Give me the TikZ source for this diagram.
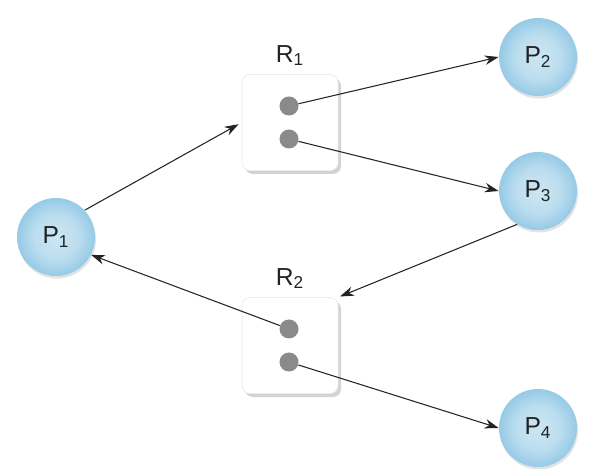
\documentclass[tikz,border=0pt]{standalone}
\usepackage{fontspec}
\setmainfont{Liberation Sans}
\usetikzlibrary{arrows.meta,positioning,shadows}
\definecolor{procin}{RGB}{204,230,243}
\definecolor{procout}{RGB}{150,202,230}
\definecolor{dotgray}{RGB}{138,138,138}
\definecolor{inkgray}{RGB}{35,35,35}
\pgfdeclareradialshading{procshade}{\pgfpoint{0bp}{0bp}}{color(0bp)=(procin); color(14bp)=(procin!70!procout); color(25bp)=(procout); color(50bp)=(procout)}

\begin{document}
\begin{tikzpicture}[
  font=\fontsize{14}{16}\selectfont, text=inkgray,
  proc/.style={circle, minimum size=1.56cm, inner sep=0pt, shading=procshade,
    drop shadow={shadow xshift=0.02cm, shadow yshift=-0.05cm, opacity=0.22}},
  res/.style={rectangle, rounded corners=0.16cm, minimum size=1.92cm, fill=white, draw=gray!15,
    drop shadow={shadow xshift=0.06cm, shadow yshift=-0.07cm, opacity=0.35}},
  inst/.style={circle, fill=dotgray, minimum size=0.38cm, inner sep=0pt},
  edge/.style={-{Stealth[length=0.28cm,width=0.19cm]}, line width=0.6pt, draw=inkgray}
]
\useasboundingbox (0,0) rectangle (12.04,9.44);
% Processes
\node[proc] (p1) at (1.12,4.70) {P\textsubscript{1}};
\node[proc] (p2) at (10.76,8.30) {P\textsubscript{2}};
\node[proc] (p3) at (10.76,5.62) {P\textsubscript{3}};
\node[proc] (p4) at (10.76,0.88) {P\textsubscript{4}};
% Resources with their instances
\node[res] (r1) at (5.80,6.99) {};
\node[res] (r2) at (5.80,2.53) {};
\node[above=0.04cm of r1] (r1lab) {R\textsubscript{1}};
\node[above=0.04cm of r2] (r2lab) {R\textsubscript{2}};
\node[inst] (r1a) at ([xshift=-0.02cm,yshift=0.33cm]r1.center) {};
\node[inst] (r1b) at ([xshift=-0.02cm,yshift=-0.33cm]r1.center) {};
\node[inst] (r2a) at ([xshift=-0.02cm,yshift=0.33cm]r2.center) {};
\node[inst] (r2b) at ([xshift=-0.02cm,yshift=-0.33cm]r2.center) {};
% Requests and assignments
\draw[edge, shorten >=2pt] (p1.43) -- (r1.west);
\draw[edge] (r1a) -- (p2.west);
\draw[edge] (r1b) -- (p3.west);
\draw[edge, shorten >=1pt] (p3.238) -- (r2.north east);
\draw[edge] (r2a) -- (p1.333);
\draw[edge] (r2b) -- (p4.west);
\end{tikzpicture}
\end{document}
